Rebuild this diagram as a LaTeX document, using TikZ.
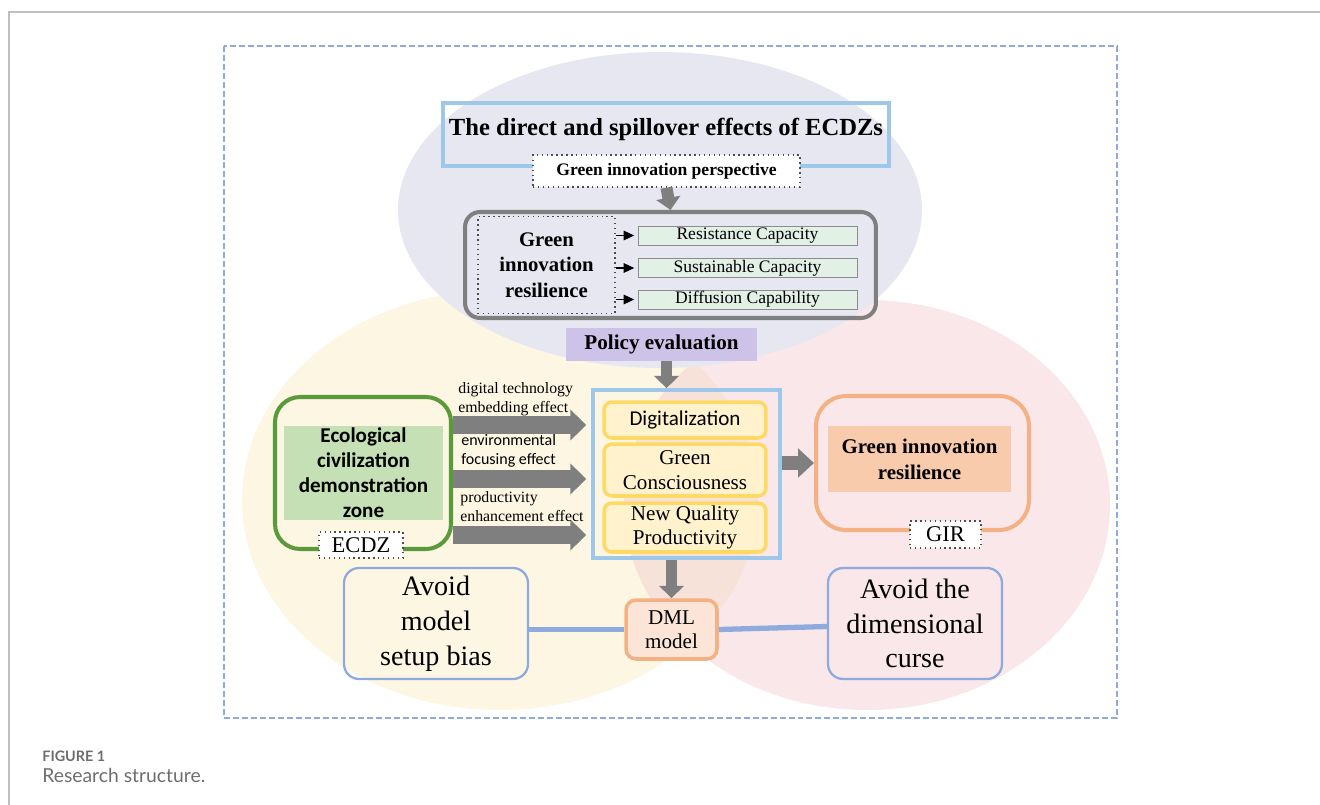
\documentclass[tikz,border=0pt]{standalone}
\usepackage{fontspec}
\setmainfont{Liberation Serif}
\newfontfamily\calfont{Carlito}
\newfontfamily\capfont{Lato}
\usetikzlibrary{arrows.meta, positioning, calc}

\definecolor{lavender}{HTML}{E7E7F1}
\definecolor{cream}{HTML}{FDF6E3}
\definecolor{pinkbase}{HTML}{F3D0D3}
\definecolor{skyline}{HTML}{9DC8EA}
\definecolor{frameblue}{HTML}{8FAADC}
\definecolor{arrowgray}{HTML}{7F7F7F}
\definecolor{mint}{HTML}{E2F0E6}
\definecolor{lilac}{HTML}{CDC3E8}
\definecolor{gold}{HTML}{FFD966}
\definecolor{lightgold}{HTML}{FFF2CC}
\definecolor{leaf}{HTML}{5B9A3A}
\definecolor{leaffill}{HTML}{C5E0B4}
\definecolor{salmon}{HTML}{F4B183}
\definecolor{salmonfill}{HTML}{F8CBAD}
\definecolor{peach}{HTML}{FCE4D6}
\definecolor{capgray}{HTML}{6E6E6E}

\begin{document}
\begin{tikzpicture}[
    x=0.02cm, y=-0.02cm,
    every node/.style={inner sep=0pt, align=center},
    dotbox/.style={draw=black!70, dotted, thick, fill=white},
    capbox/.style={draw=black!45, fill=mint, minimum width=4.38cm, minimum height=0.38cm, font=\fontsize{10}{11}\selectfont},
    goldbox/.style={draw=gold, line width=2pt, rounded corners=0.16cm, fill=lightgold, minimum width=3.24cm},
    avoidbox/.style={draw=frameblue, line width=1.3pt, rounded corners=0.3cm, minimum height=2.22cm, font=\fontsize{16}{19.8}\selectfont},
    fatarrow/.style={-{Triangle[length=7pt, width=13.6pt]}, line width=6.8pt, draw=arrowgray},
    sidearrow/.style={-{Triangle[length=9pt, width=17pt]}, line width=10pt, draw=arrowgray},
    effect/.style={anchor=north west, align=left, font=\fontsize{9}{10.8}\selectfont},
    bluelink/.style={draw=frameblue, line width=3pt}
    ]
    \useasboundingbox (0,0) rectangle (1320,805);
    % page frame and figure frame
    \draw[black!25, line width=0.8pt] (9,805) -- (9,12) -- (1320,12);
    \draw[frameblue, line width=1.1pt, dash pattern=on 3.4pt off 1.7pt] (224,46) rectangle (1117,718);

    % background ellipses
    \fill[cream] (500,500) ellipse (258 and 210);
    \fill[pinkbase, fill opacity=0.5] (867,505) ellipse (243 and 205);
    \fill[lavender] (660,210) ellipse (262 and 158);

    % top part
    \node[draw=skyline, line width=2pt, minimum width=8.92cm, minimum height=1.26cm] (titlebox) at (666,134.5) {};
    \node[font=\bfseries\fontsize{14}{16}\selectfont] (titletext) at (666,129) {The direct and spillover effects of ECDZs};
    \node[dotbox, minimum width=5.34cm, minimum height=0.64cm, font=\bfseries\fontsize{10}{12}\selectfont] (persp) at (666.5,171) {Green innovation perspective};
    \node[draw=arrowgray, line width=2.3pt, rounded corners=0.3cm, minimum width=8.22cm, minimum height=2.12cm] (gir) at (670.5,265) {};
    \node[dotbox, fill=none, minimum width=2.74cm, minimum height=1.94cm, font=\bfseries\fontsize{11.8}{14.5}\selectfont] (girdim) at (546.5,265) {Green\\innovation\\resilience};
    \node[capbox] (resist) at (747.5,235.5) {Resistance Capacity};
    \node[capbox] (sustain) at (747.5,268) {Sustainable Capacity};
    \node[capbox] (diffuse) at (747.5,299.5) {Diffusion Capability};
    \foreach \cap in {resist, sustain, diffuse}
        \draw[-{Triangle[length=6pt, width=5.5pt]}, semithick] (girdim.east |- \cap) -- ([xshift=-2pt]\cap.west);
    \draw[fatarrow] (persp.south) -- (gir.north);

    \node[fill=lilac, minimum width=3.82cm, minimum height=0.66cm, font=\bfseries\fontsize{12}{14}\selectfont] (policy) at (661.5,344.5) {Policy evaluation};

    % middle part
    \node[draw=skyline, line width=2pt, minimum width=3.74cm, minimum height=3.36cm] (mech) at (686.5,474) {};
    \node[goldbox, minimum height=0.72cm, font=\calfont\fontsize{12}{13}\selectfont] (digital) at (685,420) {Digitalization};
    \node[goldbox, minimum height=1.04cm, font=\fontsize{12}{14}\selectfont] (conscious) at (685,470) {Green\\Consciousness};
    \node[goldbox, minimum height=0.98cm, font=\fontsize{12}{14}\selectfont] (newqp) at (685,527.5) {New Quality\\Productivity};
    \draw[fatarrow] ([xshift=0.1cm]policy.south) -- ([xshift=0.1cm]policy.south |- mech.north);

    \node[draw=leaf, line width=2.3pt, rounded corners=0.5cm, minimum width=3.52cm, minimum height=3.04cm] (ecdz) at (363,473) {};
    \node[fill=leaffill, minimum width=3.18cm, minimum height=1.88cm, font=\calfont\bfseries\fontsize{12}{14.2}\selectfont] (ecdzname) at (363.5,473) {Ecological\\civilization\\demonstration\\zone};
    \node[dotbox, minimum width=1.68cm, minimum height=0.52cm, font=\fontsize{12.8}{14}\selectfont] (ecdztag) at (361,545) {ECDZ};

    \draw[sidearrow] ([yshift=-0.1cm]ecdz.east |- digital) -- ([xshift=-0.1cm, yshift=-0.1cm]mech.west |- digital);
    \draw[sidearrow] ([yshift=-0.18cm]ecdz.east |- conscious) -- ([xshift=-0.1cm, yshift=-0.18cm]mech.west |- conscious);
    \draw[sidearrow] ([yshift=-0.15cm]ecdz.east |- newqp) -- ([xshift=-0.1cm, yshift=-0.15cm]mech.west |- newqp);
    \node[effect] (digeffect) at (458,382) {digital technology\\embedding effect};
    \node[effect, font=\calfont\fontsize{9.1}{10.8}\selectfont] (enveffect) at (461,434) {environmental\\focusing effect};
    \node[effect] (prodeffect) at (460,491) {productivity\\enhancement effect};

    \node[draw=salmon, line width=2.3pt, rounded corners=0.6cm, minimum width=4.26cm, minimum height=2.68cm] (girout) at (922.5,463) {};
    \node[fill=salmonfill, minimum width=3.66cm, minimum height=1.32cm, font=\bfseries\fontsize{11.9}{14.7}\selectfont] (girname) at (919.5,459) {Green innovation\\resilience};
    \node[dotbox, minimum width=1.42cm, minimum height=0.54cm, font=\fontsize{12.8}{14}\selectfont] (girtag) at (945.5,534.5) {GIR};
    \draw[fatarrow, line width=8pt, -{Triangle[length=9pt, width=16pt]}] (mech.east |- girout) -- (girout.west);

    % bottom part
    \node[draw=salmon, line width=2pt, rounded corners=0.2cm, fill=peach, minimum width=1.82cm, minimum height=1.18cm, font=\fontsize{12}{14}\selectfont] (dml) at (671.5,629.5) {DML\\model};
    \draw[fatarrow] (mech.south -| dml) -- (dml.north);
    \node[avoidbox, minimum width=3.68cm] (avoidbias) at (436,623.5) {Avoid\\model\\setup bias};
    \node[avoidbox, minimum width=3.48cm] (avoidcurse) at (915,623.5) {Avoid the\\dimensional\\curse};
    \draw[bluelink] (avoidbias.east |- dml) -- (dml.west);
    \draw[bluelink] (dml.east) -- ([yshift=0.06cm]avoidcurse.west |- dml);

    % caption
    \node[anchor=west, text=capgray, font=\capfont\bfseries\fontsize{8.2}{9}\selectfont] (figlabel) at (42,756) {FIGURE 1};
    \node[anchor=west, text=capgray, font=\capfont\fontsize{11}{12}\selectfont] (figcaption) at (42,775) {Research structure.};
\end{tikzpicture}
\end{document}
